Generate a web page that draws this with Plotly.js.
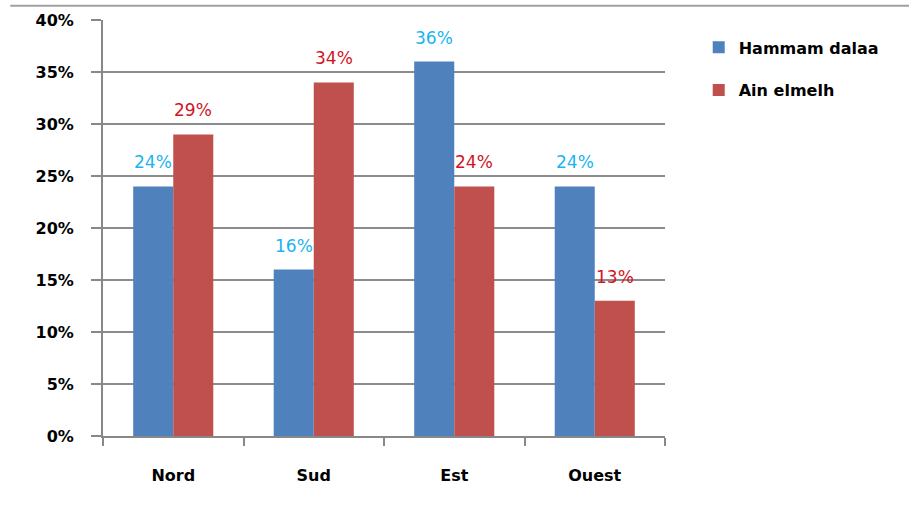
<!DOCTYPE html>
<html>
<head>
<meta charset="utf-8">
<script src="https://cdn.plot.ly/plotly-3.0.1.min.js"></script>
<style>html,body{margin:0;padding:0;background:#fff;}#chart{width:909px;height:520px;}</style>
</head>
<body>
<div id="chart"></div>
<script>
const categories = ["Nord", "Sud", "Est", "Ouest"];
const seriesNames = ["Hammam dalaa", "Ain elmelh"];
const hammamDalaa = [0.24, 0.16, 0.36, 0.24];
const ainElmelh = [0.29, 0.34, 0.24, 0.13];
const yTickVals = [0, 0.05, 0.10, 0.15, 0.20, 0.25, 0.30, 0.35, 0.40];
const yTickText = ["0%", "5%", "10%", "15%", "20%", "25%", "30%", "35%", "40%"];

const colors = ["#4f81bd", "#c0504d"];
const labelColors = ["#1ab4f2", "#d2141e"];
const fontFam = "DejaVu Sans, Verdana, sans-serif";

const traces = [hammamDalaa, ainElmelh].map((vals, i) => ({
  type: "bar",
  name: seriesNames[i],
  legendgroup: "g" + i,
  x: categories,
  y: vals,
  marker: {color: colors[i]},
  hoverinfo: "none"
}));

const annotations = [];
[hammamDalaa, ainElmelh].forEach((vals, i) => {
  vals.forEach((v, j) => {
    annotations.push({
      x: categories[j], y: v, xref: "x", yref: "y",
      text: Math.round(v * 100) + "%",
      showarrow: false,
      xshift: i === 0 ? -20 : 20,
      yshift: 24,
      yanchor: "middle",
      font: {family: fontFam, size: 17, color: labelColors[i]}
    });
  });
});

const layout = {
  width: 909, height: 520,
  margin: {l: 103, r: 244, t: 20, b: 84},
  paper_bgcolor: "#fff", plot_bgcolor: "#fff",
  barmode: "group",
  bargap: 0.43,
  bargroupgap: 0,
  showlegend: true,
  legend: {
    x: 1.06, y: 0.975, xanchor: "left", yanchor: "top",
    font: {family: fontFam, size: 16, color: "#000", weight: "bold"},
    itemwidth: 30, tracegroupgap: 19, itemsizing: "constant"
  },
  xaxis: {
    type: "category",
    showline: true, linecolor: "#888", linewidth: 2,
    ticks: "outside", tickson: "boundaries", ticklen: 8, tickcolor: "#888", tickwidth: 2,
    tickfont: {family: fontFam, size: 16, color: "#000", weight: "bold"},
    showgrid: false, zeroline: false,
    ticklabelstandoff: 24
  },
  yaxis: {
    range: [0, 0.40],
    tickvals: yTickVals, ticktext: yTickText,
    showline: true, linecolor: "#888", linewidth: 2,
    ticks: "outside", ticklen: 10, tickcolor: "#888", tickwidth: 2,
    tickfont: {family: fontFam, size: 16, color: "#000", weight: "bold"},
    showgrid: true, gridcolor: "#8c8c8c", gridwidth: 1.5,
    zeroline: false, ticklabelstandoff: 14
  },
  annotations: annotations,
  shapes: [{
    type: "line", xref: "paper", yref: "paper",
    x0: -0.165, x1: 1.44, y0: 1.034, y1: 1.034,
    line: {color: "#a0a0a0", width: 2}
  }]
};

Plotly.newPlot("chart", traces, layout, {displayModeBar: false, staticPlot: true});
</script>
</body>
</html>
